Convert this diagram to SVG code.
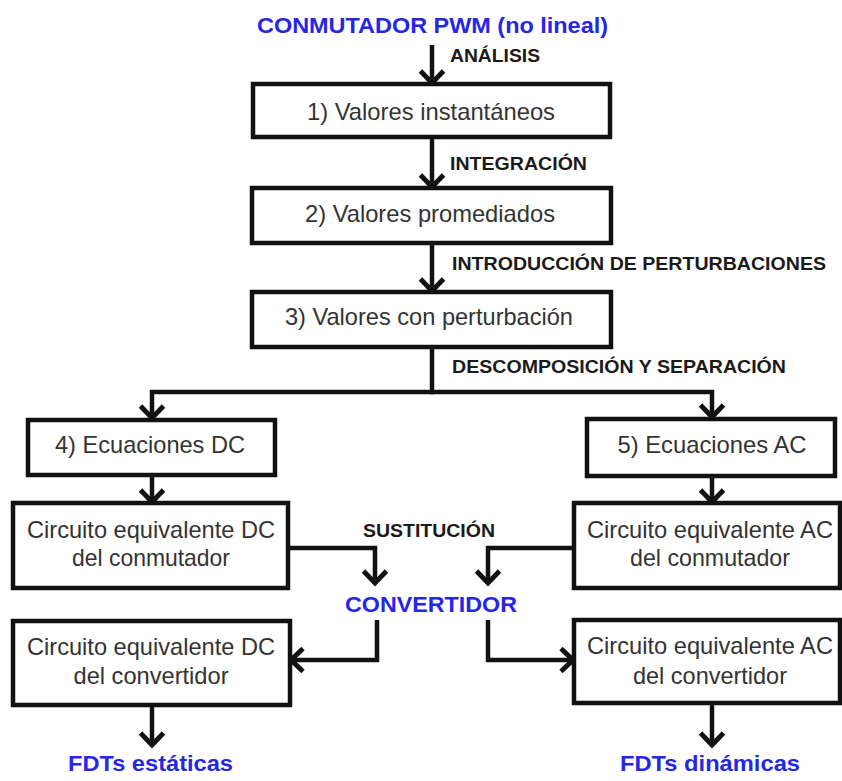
<svg xmlns="http://www.w3.org/2000/svg" width="842" height="781" viewBox="0 0 842 781">
  <style>
    .box { fill: #ffffff; stroke: #111111; stroke-width: 4.5; }
    .txt { font-family: "Liberation Sans", Arial, sans-serif; font-size: 24px; fill: #333333; text-anchor: middle; }
    .lbl { font-family: "Liberation Sans", Arial, sans-serif; font-size: 18px; font-weight: bold; fill: #1a1a1a; }
    .blue { font-family: "Liberation Sans", Arial, sans-serif; font-size: 22px; font-weight: bold; fill: #2626e6; }
    .wire { fill: none; stroke: #111111; stroke-width: 4.5; marker-end: url(#chev); }
    .plain { fill: none; stroke: #111111; stroke-width: 4.5; }
  </style>
  <defs>
    <marker id="chev" markerUnits="userSpaceOnUse" viewBox="-16 -16 20 32" markerWidth="20" markerHeight="32" refX="0" refY="0" orient="auto">
      <path d="M-12,-11.5 L0,0 L-12,11.5" fill="none" stroke="#111111" stroke-width="4.8" stroke-linejoin="miter"/>
    </marker>
  </defs>
  <rect width="842" height="781" fill="#ffffff"/>

  <!-- headings and step labels -->
  <g id="titles">
    <text class="blue" x="257" y="33" textLength="351" lengthAdjust="spacingAndGlyphs">CONMUTADOR PWM (no lineal)</text>
    <text class="lbl" x="450" y="62" textLength="90" lengthAdjust="spacingAndGlyphs">ANÁLISIS</text>
    <text class="lbl" x="450" y="170" textLength="137" lengthAdjust="spacingAndGlyphs">INTEGRACIÓN</text>
    <text class="lbl" x="452" y="270" textLength="374" lengthAdjust="spacingAndGlyphs">INTRODUCCIÓN DE PERTURBACIONES</text>
    <text class="lbl" x="452" y="373" textLength="334" lengthAdjust="spacingAndGlyphs">DESCOMPOSICIÓN Y SEPARACIÓN</text>
    <text class="lbl" x="363" y="537" textLength="132" lengthAdjust="spacingAndGlyphs">SUSTITUCIÓN</text>
  </g>

  <!-- connectors -->
  <g id="connectors">
    <path class="wire" d="M432 45 V83"/>
    <path class="wire" d="M432 137 V187"/>
    <path class="wire" d="M432 243 V291"/>
    <path class="plain" d="M432 347 V392"/>
    <path class="wire" d="M434 392 H152 V418"/>
    <path class="wire" d="M430 392 H712 V417"/>
    <path class="wire" d="M152 475 V502"/>
    <path class="wire" d="M712 476 V502"/>
    <path class="wire" d="M288 548 H375 V583"/>
    <path class="wire" d="M574 548 H488 V583"/>
    <path class="wire" d="M377 620 V660 H291"/>
    <path class="wire" d="M488 620 V660 H573"/>
    <path class="wire" d="M152 705 V745"/>
    <path class="wire" d="M712 703 V745"/>
  </g>

  <g id="n1">
    <rect class="box" x="253" y="84" width="357" height="53"/>
    <text class="txt" x="431" y="120" textLength="248" lengthAdjust="spacingAndGlyphs">1) Valores instantáneos</text>
  </g>
  <g id="n2">
    <rect class="box" x="252" y="188" width="359" height="55"/>
    <text class="txt" x="430" y="222" textLength="250" lengthAdjust="spacingAndGlyphs">2) Valores promediados</text>
  </g>
  <g id="n3">
    <rect class="box" x="252" y="292" width="359" height="55"/>
    <text class="txt" x="429" y="325" textLength="288" lengthAdjust="spacingAndGlyphs">3) Valores con perturbación</text>
  </g>
  <g id="n4">
    <rect class="box" x="28" y="420" width="247" height="55"/>
    <text class="txt" x="150" y="453" textLength="190" lengthAdjust="spacingAndGlyphs">4) Ecuaciones DC</text>
  </g>
  <g id="n5">
    <rect class="box" x="587" y="419" width="248" height="57"/>
    <text class="txt" x="712" y="453" textLength="189" lengthAdjust="spacingAndGlyphs">5) Ecuaciones AC</text>
  </g>
  <g id="dc-conmutador">
    <rect class="box" x="13" y="503" width="275" height="85"/>
    <text class="txt" x="151" y="538" textLength="248" lengthAdjust="spacingAndGlyphs">Circuito equivalente DC</text>
    <text class="txt" x="151" y="566" textLength="158" lengthAdjust="spacingAndGlyphs">del conmutador</text>
  </g>
  <g id="ac-conmutador">
    <rect class="box" x="574" y="503" width="266" height="85"/>
    <text class="txt" x="710" y="538" textLength="246" lengthAdjust="spacingAndGlyphs">Circuito equivalente AC</text>
    <text class="txt" x="710" y="566" textLength="160" lengthAdjust="spacingAndGlyphs">del conmutador</text>
  </g>
  <g id="convertidor">
    <text class="blue" x="345" y="612" textLength="172" lengthAdjust="spacingAndGlyphs">CONVERTIDOR</text>
  </g>
  <g id="dc-convertidor">
    <rect class="box" x="13" y="621" width="277" height="84"/>
    <text class="txt" x="151" y="655" textLength="248" lengthAdjust="spacingAndGlyphs">Circuito equivalente DC</text>
    <text class="txt" x="151" y="684" textLength="155" lengthAdjust="spacingAndGlyphs">del convertidor</text>
  </g>
  <g id="ac-convertidor">
    <rect class="box" x="574" y="620" width="266" height="83"/>
    <text class="txt" x="710" y="654" textLength="246" lengthAdjust="spacingAndGlyphs">Circuito equivalente AC</text>
    <text class="txt" x="710" y="684" textLength="154" lengthAdjust="spacingAndGlyphs">del convertidor</text>
  </g>
  <g id="fdt-estaticas">
    <text class="blue" x="68" y="771" textLength="165" lengthAdjust="spacingAndGlyphs">FDTs estáticas</text>
  </g>
  <g id="fdt-dinamicas">
    <text class="blue" x="620" y="771" textLength="180" lengthAdjust="spacingAndGlyphs">FDTs dinámicas</text>
  </g>
</svg>
